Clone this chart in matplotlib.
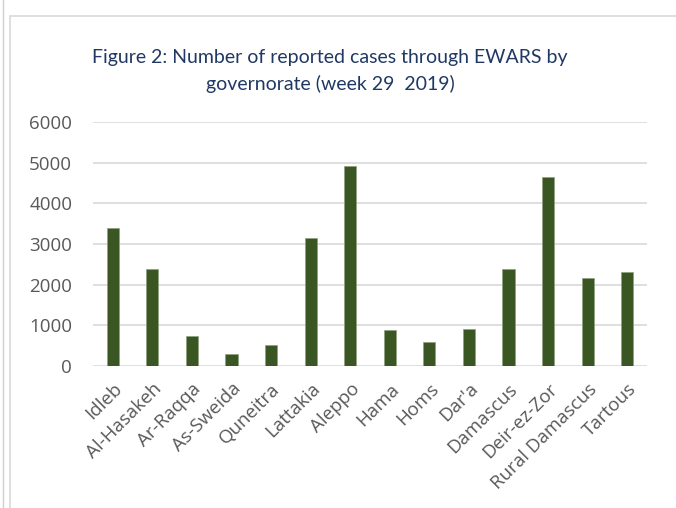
import matplotlib
matplotlib.use("Agg")
import numpy as np
from matplotlib import pyplot
from matplotlib.patches import Rectangle

governorates = ["Idleb", "Al-Hasakeh", "Ar-Raqqa", "As-Sweida", "Quneitra", "Lattakia", "Aleppo",
                "Hama", "Homs", "Dar'a", "Damascus", "Deir-ez-Zor", "Rural Damascus", "Tartous"]
cases = [3400, 2390, 740, 300, 520, 3150, 4910, 885, 585, 910, 2390, 4640, 2160, 2310]
yticks = [0, 1000, 2000, 3000, 4000, 5000, 6000]

pyplot.rcParams["font.family"] = ["Open Sans", "DejaVu Sans"]

fig = pyplot.figure(figsize=(6.76, 5.08), dpi=100)
ax = fig.add_axes([93 / 676, 1 - 366 / 508, 554 / 676, 244 / 508])

# chart frame and page margin line
fig.patches.append(Rectangle((10 / 676, -0.1), 1.0, 1 - 16 / 508 + 0.1, transform=fig.transFigure,
                             fill=False, edgecolor="#d9d9d9", linewidth=1.2))
fig.lines.append(pyplot.Line2D([3 / 676, 3 / 676], [0, 1], transform=fig.transFigure,
                               color="#d0d0d0", linewidth=1))

x = np.arange(len(governorates))
ax.bar(x, cases, width=0.31, color="#3a5623", edgecolor="#8fa07f", linewidth=0.5, zorder=3)

ax.set_xlim(-0.5, len(governorates) - 0.5)
ax.set_ylim(0, 6000)
ax.set_yticks(yticks)
ax.set_yticklabels([str(v) for v in yticks])
ax.yaxis.grid(True, color="#d9d9d9", linewidth=1.2)
ax.set_axisbelow(True)
for s in ax.spines.values():
    s.set_visible(False)
ax.tick_params(axis="both", length=0, labelsize=13.5, labelcolor="#595959")
ax.tick_params(axis="y", pad=15)
ax.tick_params(axis="x", pad=10)
ax.set_xticks(x)
ax.set_xticklabels(governorates, rotation=45, ha="right", rotation_mode="anchor")

fig.text(330 / 676, 1 - 57 / 508, "Figure 2: Number of reported cases through EWARS by",
         ha="center", va="center", fontsize=14, color="#203864", family=["Lato", "DejaVu Sans"])
fig.text(330 / 676, 1 - 84 / 508, "governorate (week 29  2019)",
         ha="center", va="center", fontsize=14, color="#203864", family=["Lato", "DejaVu Sans"])

pyplot.savefig("out.png", dpi=100)
